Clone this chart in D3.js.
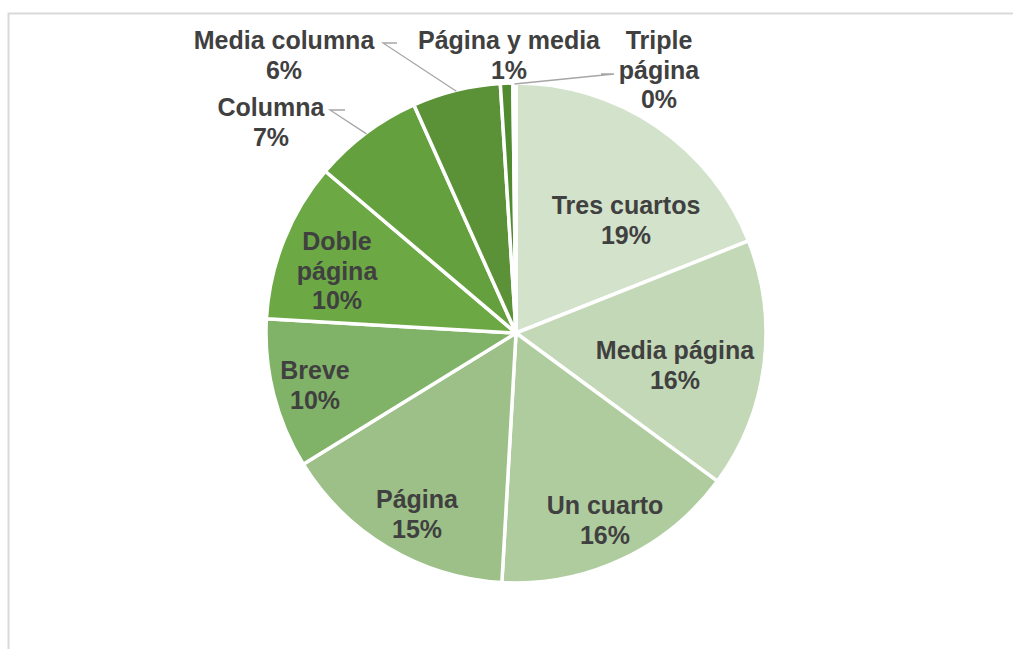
<!DOCTYPE html>
<html>
<head>
<meta charset="utf-8">
<script src="https://cdn.jsdelivr.net/npm/d3@7"></script>
<style>
  html, body { margin: 0; padding: 0; background: #fff; }
  svg { display: block; }
  .lbl { font-family: "Liberation Sans", Arial, sans-serif; font-weight: bold; font-size: 25px; fill: #404040; }
</style>
</head>
<body>
<svg id="chart" width="1013" height="649"></svg>
<script>
// Share of each ad format (percent)
const categories = ["Tres cuartos", "Media página", "Un cuarto", "Página", "Breve",
                    "Doble página", "Columna", "Media columna", "Página y media", "Triple página"];
const shares = [19.0, 16.1, 15.8, 15.3, 9.7, 10.3, 7.1, 5.7, 0.8, 0.2];
const sliceColors = ["#d3e2cb", "#c3d8b6", "#afcc9f", "#9cc087", "#80b368",
                     "#6ca944", "#64a03d", "#5b9237", "#518b30", "#487d2a"];

// Label text lines per slice
const nameLines = {
  "Doble página": ["Doble", "página"],
  "Triple página": ["Triple", "página"]
};

// Label placement relative to the pie centre (first line centre)
const labelLayout = {
  "Tres cuartos":   { dx: 110,  dy: -128 },
  "Media página":   { dx: 159,  dy: 17 },
  "Un cuarto":      { dx: 89,   dy: 172 },
  "Página":         { dx: -99,  dy: 166 },
  "Breve":          { dx: -201, dy: 37 },
  "Doble página":   { dx: -179, dy: -92 },
  "Columna":        { dx: -245, dy: -226, leader: [[-186, -223], [-171, -223]] },
  "Media columna":  { dx: -232, dy: -293, leader: [[-133, -290], [-119, -290]] },
  "Página y media": { dx: -7,   dy: -293 },
  "Triple página":  { dx: 143,  dy: -293, leader: [[98, -259], [85, -259]] }
};

const W = 1013, H = 649;
const cx = 516, cy = 333, R = 250;
const lineH = 29.5;

const svg = d3.select("#chart");

// chart area frame
svg.append("path")
  .attr("d", `M8.5,${H} L8.5,13.5 L${W},13.5`)
  .attr("fill", "none")
  .attr("stroke", "#d9d9d9")
  .attr("stroke-width", 2);

const data = categories.map((c, i) => ({ name: c, value: shares[i], color: sliceColors[i] }));

const pie = d3.pie().sort(null).value(d => d.value);
const arcs = pie(data);
const arc = d3.arc().innerRadius(0).outerRadius(R);

const g = svg.append("g").attr("transform", `translate(${cx},${cy})`);

g.selectAll("path.slice")
  .data(arcs)
  .enter().append("path")
  .attr("class", "slice")
  .attr("d", arc)
  .attr("fill", d => d.data.color)
  .attr("stroke", "#fff")
  .attr("stroke-width", 3.5)
  .attr("stroke-linejoin", "round");

// leader lines for labels placed outside the pie
arcs.forEach(a => {
  const lay = labelLayout[a.data.name];
  if (!lay.leader) return;
  const mid = (a.startAngle + a.endAngle) / 2;
  const p0 = [Math.sin(mid) * (R - 1), -Math.cos(mid) * (R - 1)];
  const pts = [p0].concat(lay.leader);
  g.append("path")
    .attr("d", d3.line()(pts))
    .attr("fill", "none")
    .attr("stroke", "#a6a6a6")
    .attr("stroke-width", 1.3);
});

// data labels: category name + rounded percentage
arcs.forEach(a => {
  const name = a.data.name;
  const lay = labelLayout[name];
  const lines = (nameLines[name] || [name]).concat([Math.round(a.data.value) + "%"]);
  const t = g.append("text")
    .attr("class", "lbl")
    .attr("text-anchor", "middle");
  lines.forEach((s, i) => {
    t.append("tspan")
      .attr("x", lay.dx)
      .attr("y", lay.dy + i * lineH + 9)
      .text(s);
  });
});
</script>
</body>
</html>
